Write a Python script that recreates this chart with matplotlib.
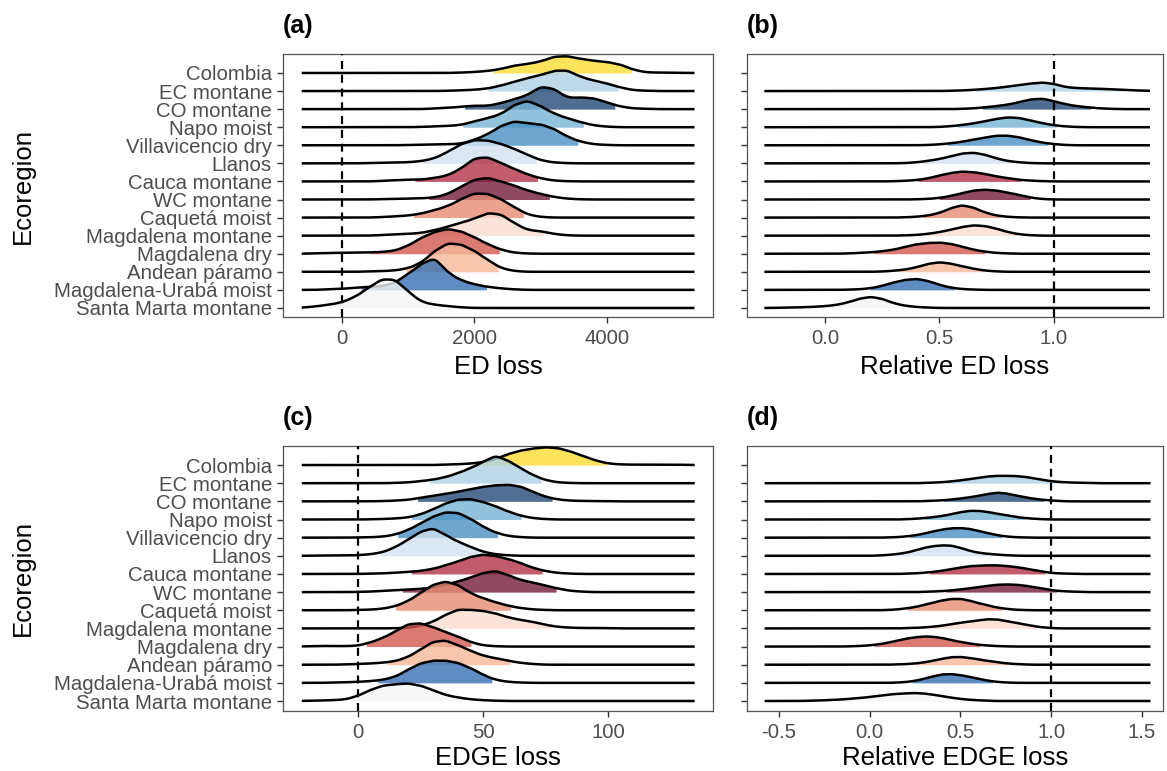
import numpy as np
import matplotlib
matplotlib.use("Agg")
import matplotlib.pyplot as plt

plt.rcParams['font.family'] = ['Liberation Sans', 'DejaVu Sans']

# ecoregions, top row first
regions = ["Colombia", "EC montane", "CO montane", "Napo moist", "Villavicencio dry",
           "Llanos", "Cauca montane", "WC montane", "Caquetá moist", "Magdalena montane",
           "Magdalena dry", "Andean páramo", "Magdalena-Urabá moist", "Santa Marta montane"]
fill_colors = ["#FADD32", "#AED1E5", "#234A76", "#78B4D4", "#4A90C4", "#D3E3F0", "#B33246",
               "#731D3B", "#E68C73", "#FBDDD1", "#D15950", "#F5B899", "#3670B4", "#F5F5F5"]

# weighted observations per ridge: first value, then counts on an even step
ed_step = 200
ed_start = [1800, 1600, 1400, 1200, 1000, 400, 600, 600, 600, 600, -400, 400, -200, -600]
ed_counts = [
    [0.4, 1.0, 2.0, 4, 7.5, 9, 11.5, 16.5, 17, 14, 12.2, 11, 8.5, 3, 0.5, 0.4, 0.4],
    [0.3, 0.7, 1.3, 2.5, 5.5, 9.3, 13, 16, 20.5, 21, 14, 10.5, 7.5, 3.5, 0.8, 0.3],
    [0.7, 1.2, 2.5, 3.5, 3.2, 6, 10, 14, 23, 20.5, 11, 11.8, 11, 6.5, 2.5, 0.7, 0.3],
    [0.3, 0.8, 1.3, 2.2, 6, 9, 13, 22.5, 27, 21, 13.5, 9, 5, 1.8, 0.5],
    [0.3, 0.5, 0.7, 1.0, 1.5, 5.5, 11, 19.5, 24.3, 22, 21, 16.5, 8.5, 3.5, 1, 0.3],
    [0.3, 0.5, 0.8, 1.1, 2.2, 5, 11.5, 19.5, 23.5, 23, 19.5, 14.5, 8.5, 3, 0.8, 0.2],
    [0.5, 1.2, 1.8, 1.8, 3.5, 6, 13, 23.5, 24.5, 18.5, 12.5, 7, 3, 0.8, 0.2],
    [0.5, 0.6, 0.9, 1.2, 2, 5.5, 13, 20, 22, 18, 14, 9, 5.5, 2.5, 0.8, 0.2],
    [0.5, 1.2, 2, 4, 7.5, 11.5, 18.5, 24.5, 24, 18.5, 10.5, 3, 0.6],
    [0.6, 1.2, 1.8, 2.7, 5.5, 9, 13, 17, 23, 21.5, 12.5, 5.5, 4.5, 1.7, 0.3],
    [0.4, 0.7, 1, 1.1, 1.3, 1.7, 3, 8, 16, 22, 25, 22.5, 16.5, 9.5, 4, 1, 0.2],
    [0.4, 0.7, 1.3, 3.5, 9, 21, 29, 27.5, 21, 12, 3.5, 0.8],
    [0.6, 1, 2.2, 3, 3.5, 7, 16, 26, 33, 17, 9.5, 5.5, 3, 1.5, 0.5],
    [0.3, 1.5, 3.2, 5.5, 11, 20, 29, 29, 16.5, 6, 3.2, 1.9, 0.6],
]

rel_ed_step = 0.05
rel_ed_start = [None, 0.55, 0.6, 0.5, 0.45, 0.35, 0.3, 0.4, 0.35, 0.35, 0.1, 0.25, 0.1, -0.2]
rel_ed_counts = [
    None,
    [0.3, 0.6, 1.2, 2, 3, 4.5, 6, 7.5, 8.7, 7.3, 4, 3, 2.6, 2.3, 1.8, 1.2, 0.7, 0.4],
    [0.3, 0.8, 1.8, 3, 4.5, 7, 9.8, 10.7, 8, 5, 3, 1.8, 0.8, 0.3],
    [0.3, 1, 2.2, 3.8, 6, 8.3, 10, 9.3, 6.7, 4, 2, 0.8, 0.2],
    [0.3, 0.9, 2, 3.5, 5.7, 7.8, 9.7, 9.7, 8, 5, 2.7, 1.2, 0.3],
    [0.3, 1, 2.5, 4.3, 7, 10, 10.8, 8.7, 4.8, 2.3, 1, 0.3],
    [0.2, 0.6, 1.3, 3, 6, 8.5, 10, 9.3, 7.5, 5, 3.2, 1.6, 0.8, 0.3],
    [0.2, 0.6, 1.5, 3.5, 6.5, 9, 10, 9, 7, 4.5, 1.8, 0.5],
    [0.3, 0.8, 2, 4.5, 9.5, 12.7, 10, 5, 2, 0.7, 0.2],
    [0.3, 0.7, 1.8, 3.5, 6, 8.7, 10.5, 9.7, 7, 3.5, 1.3, 0.4],
    [0.3, 0.8, 1.4, 2.5, 4, 6.8, 9.5, 10.8, 11.3, 10, 7, 4, 2, 0.8, 0.3],
    [0.3, 1, 2.2, 4.5, 8, 9.7, 8.3, 5.5, 3, 1.2, 0.4],
    [0.2, 0.6, 1.6, 4, 7.5, 10, 11.2, 9, 5, 2.2, 0.8, 0.3],
    [0.2, 0.4, 0.7, 1.1, 1.8, 3, 5.5, 9.3, 11.3, 9.3, 4.7, 2.2, 1, 0.4],
]

edge_step = 5
edge_start = [35, 15, 10, 5, 0, -20, 5, 0, 0, 15, -20, -5, -10, -20]
edge_counts = [
    [0.5, 0.8, 1.5, 2.8, 6, 11, 14.5, 16.5, 17.8, 17, 13.5, 9, 4.5, 1.5, 0.6, 0.4, 0.4, 0.4, 0.4, 0.3],
    [0.3, 0.8, 2, 3.5, 6, 10, 15, 21, 28, 22.5, 15, 8, 3, 0.8, 0.2],
    [0.3, 0.7, 1.5, 3.5, 5.5, 7.5, 9.5, 12, 14.5, 16, 16.7, 15, 9.5, 4.5, 1.8, 0.7, 0.4, 0.3],
    [0.2, 0.5, 1, 2, 5, 10, 16, 20, 20.5, 17.5, 13.3, 8, 3.8, 1.3, 0.4],
    [0.2, 0.4, 1, 3, 7.5, 14, 21, 25.5, 25, 19, 11, 5, 1.7, 0.5],
    [0.1, 0.2, 0.2, 0.3, 0.6, 1.5, 3.5, 8.5, 16, 24, 28, 21, 14, 9, 4, 1.5, 0.5],
    [0.3, 0.6, 1.2, 2, 3, 5, 8.5, 12.5, 17, 19.5, 18, 15, 11, 6, 2.8, 1, 0.3],
    [0.2, 0.5, 1.2, 2, 2.5, 3.2, 4.5, 7.5, 10.5, 14.5, 19, 21.5, 17, 12, 9.5, 6.5, 3.5, 1.2, 0.4],
    [0.3, 0.6, 1.5, 4, 9, 17, 25.5, 29, 25.5, 17, 12, 8, 4.5, 2.2, 0.8, 0.3],
    [0.2, 0.5, 2.5, 6.5, 13.5, 19, 18.5, 17.5, 15, 11, 8.5, 6.5, 3.5, 1.5, 0.7, 0.4, 0.4, 0.3],
    [0.3, 0.6, 0.6, 0.4, 0.8, 4, 8.5, 15, 22.5, 23.5, 19.5, 14.5, 10, 4.5, 1.2, 0.3],
    [0.3, 0.7, 1.2, 2, 3.5, 7.5, 15, 23, 24.5, 19.5, 14, 9, 6.5, 4, 1.8, 0.7],
    [0.3, 0.6, 1, 1.7, 3, 6, 13, 19.5, 22.3, 22.3, 20, 15, 8, 3, 1, 0.3],
    [0.2, 0.5, 0.8, 1.5, 5, 11, 15.5, 16.7, 17.7, 15.5, 11, 6, 3.5, 1.7, 0.8, 0.3],
]

rel_edge_step = 0.05
rel_edge_start = [None, 0.3, 0.3, 0.2, 0.1, 0.05, 0.2, 0.3, 0.1, 0.2, -0.1, 0.15, 0.15, -0.35]
rel_edge_counts = [
    None,
    [0.3, 0.6, 1, 1.8, 2.8, 4, 5.5, 6.7, 7.3, 7.3, 7.2, 6.5, 5, 3.3, 2, 1.2, 0.7, 0.5, 0.3],
    [0.3, 0.6, 1, 1.8, 2.8, 4, 5.5, 7.3, 8.8, 8, 6, 4.2, 2.7, 1.6, 0.8, 0.3],
    [0.3, 0.7, 1.4, 2.3, 3.5, 5.3, 7.3, 8.7, 8.7, 7.5, 5.8, 4.2, 2.7, 1.5, 0.8, 0.3],
    [0.2, 0.5, 1.2, 2.3, 4, 6.2, 8.2, 9.4, 9.7, 8.7, 6.8, 4.5, 2.5, 1.2, 0.5, 0.2],
    [0.3, 0.8, 1.7, 3, 5.3, 8, 9.7, 10.5, 10.2, 8, 5, 3, 2, 1.2, 0.6, 0.2],
    [0.3, 0.6, 1.2, 2, 3.2, 4.8, 6.5, 7.7, 8.3, 8.6, 8.6, 8, 7, 5.7, 4, 2.3, 1, 0.5, 0.3],
    [0.3, 0.6, 1, 1.7, 2.6, 3.7, 5, 6.2, 7.3, 7.7, 7.5, 6.7, 5, 3.5, 2, 1, 0.6, 0.3],
    [0.3, 0.8, 1.8, 3.2, 5.3, 7.8, 9.8, 11.3, 11.5, 9.7, 7, 4.8, 2.8, 1.4, 0.6, 0.2],
    [0.3, 0.5, 1, 1.7, 2.7, 4.2, 5.7, 6.8, 8, 9.2, 9, 7.5, 5.8, 4, 2.3, 1.1, 0.4],
    [0.3, 0.6, 1.2, 2.2, 3.8, 5.8, 7.8, 9.3, 10.2, 9.8, 8.5, 6.5, 4.6, 3, 1.8, 1, 0.5, 0.2],
    [0.3, 0.6, 1.2, 2.3, 4, 6, 7.6, 7.8, 6.8, 5.3, 3.8, 2.5, 1.4, 0.7, 0.3],
    [0.3, 0.8, 2, 4, 6.5, 8.5, 8.8, 7.8, 6, 4, 2.2, 1, 0.4],
    [0.2, 0.4, 0.7, 1.1, 1.6, 2.3, 3, 4, 5.2, 6.3, 7.1, 7.6, 8, 7.5, 6.3, 4.8, 3.3, 2.1, 1.2, 0.7, 0.3],
]

W, H = 1167, 771
ROW_PX = 18.1
TICK_GREY = "#4D4D4D"


def kde(xs, start, step, counts, bw_frac=0.55):
    pos = start + step * np.arange(len(counts))
    bw = bw_frac * step
    k = np.exp(-0.5 * ((xs[:, None] - pos[None, :]) / bw) ** 2)
    return (k @ np.asarray(counts, float)) * step / (bw * np.sqrt(2 * np.pi))


def ridges(ax, starts, counts, step, data_range):
    xs = np.linspace(data_range[0], data_range[1], 1500)
    n = len(regions)
    for i in range(n):
        if counts[i] is None:
            continue
        row = n - 1 - i
        d = kde(xs, starts[i], step, counts[i]) / ROW_PX
        cdf = np.cumsum(d)
        cdf /= cdf[-1]
        # fill only the central part of each ridge
        inside = (cdf >= 0.03) & (cdf <= 0.97)
        ax.fill_between(xs, row, row + d, where=inside, color=fill_colors[i],
                        alpha=0.8, lw=0, zorder=2 + 2 * i)
        ax.plot(xs, row + d, color="black", lw=1.8, solid_joinstyle="round",
                solid_capstyle="butt", zorder=3 + 2 * i)


def panel(rect, starts, counts, step, data_range, xlim, xticks, xticklabels,
          xlabel, title, vline, show_y, ylim, labelpad):
    ax = fig.add_axes([rect[0] / W, 1 - rect[3] / H, (rect[2] - rect[0]) / W,
                       (rect[3] - rect[1]) / H])
    ridges(ax, starts, counts, step, data_range)
    ax.axvline(vline, color="black", lw=1.6, ls=(0, (3.6, 2.6)), zorder=60)
    ax.set_xlim(*xlim)
    ax.set_ylim(*ylim)
    ax.set_xticks(xticks)
    ax.set_xticklabels(xticklabels)
    ax.set_yticks(range(len(regions)))
    if show_y:
        ax.set_yticklabels(regions[::-1])
        ax.set_ylabel("Ecoregion", fontsize=18.5, color="black")
        ax.yaxis.set_label_coords((35 - rect[0]) / (rect[2] - rect[0]), 0.5)
    else:
        ax.set_yticklabels([])
    ax.tick_params(axis="both", length=4.5, width=1.0, color="#333333",
                   labelcolor=TICK_GREY, labelsize=14.7, pad=3.5)
    ax.tick_params(axis="x", pad=4.5)
    ax.set_xlabel(xlabel, fontsize=18.5, labelpad=labelpad)
    for s in ax.spines.values():
        s.set_color("#555555")
        s.set_linewidth(0.9)
    fig.text(rect[0] / W, 1 - (rect[1] - 21) / H, title, fontsize=18,
             fontweight="bold", ha="left", va="baseline")
    return ax


fig = plt.figure(figsize=(W / 100, H / 100), dpi=100)

panel((283, 54, 713, 317), ed_start, ed_counts, ed_step, (-602, 5313),
      (-884, 5592), [0, 2000, 4000], ["0", "2000", "4000"], "ED loss", "(a)", 0, True,
      (-0.5, 14.05), 5)
panel((747, 54, 1163, 317), rel_ed_start, rel_ed_counts, rel_ed_step, (-0.265, 1.421),
      (-0.341, 1.478), [0.0, 0.5, 1.0], ["0.0", "0.5", "1.0"], "Relative ED loss", "(b)",
      1.0, False, (-0.5, 14.05), 5)
panel((283, 446, 713, 711), edge_start, edge_counts, edge_step, (-22.3, 134.5),
      (-29.8, 141.8), [0, 50, 100], ["0", "50", "100"], "EDGE loss", "(c)", 0, True,
      (-0.55, 14.05), 2.5)
panel((747, 446, 1163, 711), rel_edge_start, rel_edge_counts, rel_edge_step, (-0.578, 1.546),
      (-0.675, 1.615), [-0.5, 0.0, 0.5, 1.0, 1.5], ["-0.5", "0.0", "0.5", "1.0", "1.5"],
      "Relative EDGE loss", "(d)", 1.0, False, (-0.55, 14.05), 2.5)

fig.savefig("out.png", dpi=100)
